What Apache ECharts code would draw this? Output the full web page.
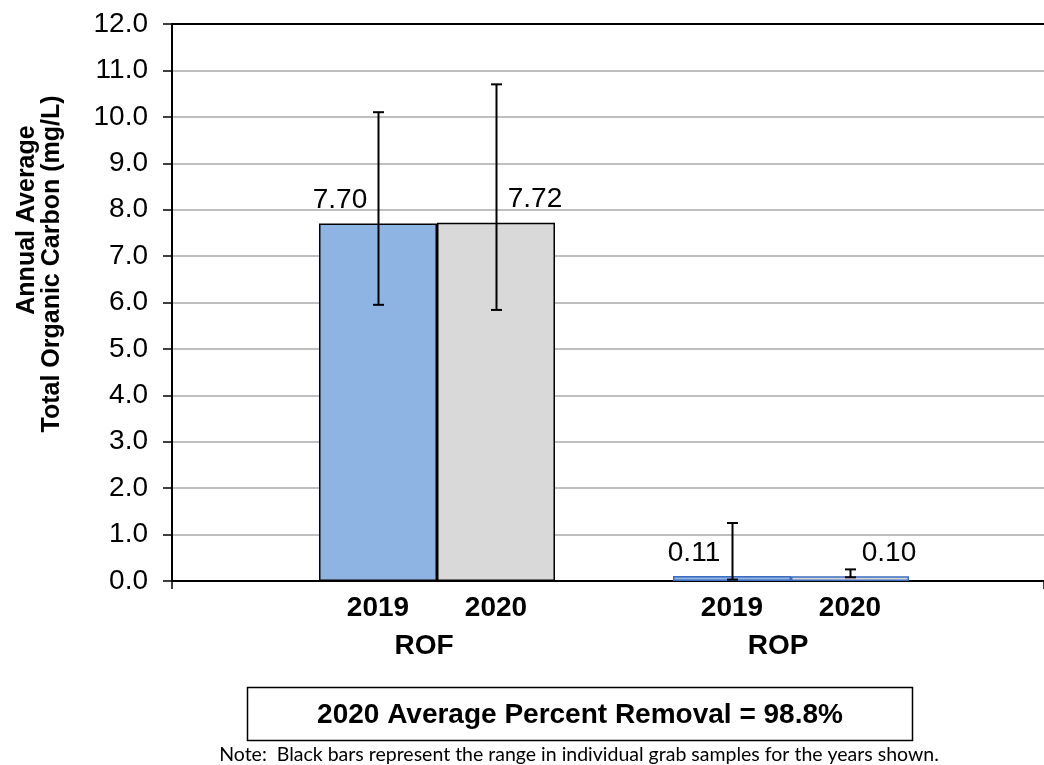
<!DOCTYPE html>
<html>
<head>
<meta charset="utf-8">
<script src="https://cdn.jsdelivr.net/npm/echarts@6/dist/echarts.min.js"></script>
<style>
html,body{margin:0;padding:0;background:#fff;}
#chart{width:1044px;height:765px;}
</style>
</head>
<body>
<div id="chart"></div>
<script>
// ---- data ----
const categories = ['ROF', 'ROP'];
const years = ['2019', '2020'];
const avg2019 = [7.70, 0.11];
const avg2020 = [7.72, 0.10];
const min2019 = [5.95, 0.03];
const max2019 = [10.1, 1.25];
const min2020 = [5.84, 0.08];
const max2020 = [10.7, 0.25];
const yMin = 0, yMax = 12, yStep = 1;
const yTitleLine1 = 'Annual Average';
const yTitleLine2 = 'Total Organic Carbon (mg/L)';
const removalText = '2020 Average Percent Removal = 98.8%';
const noteText = 'Note:  Black bars represent the range in individual grab samples for the years shown.';

// ---- styles ----
const FONT = "'Liberation Sans', Arial, sans-serif";
const borderByCat = ['#000000', '#3B6CC0'];
const fill2019 = '#8EB4E3';
const fill2020 = '#D9D9D9';

const chart = echarts.init(document.getElementById('chart'), null, {renderer: 'canvas'});

function barData(vals, fill) {
  return vals.map((v, i) => ({
    value: v,
    itemStyle: {color: fill, borderColor: borderByCat[i], borderWidth: 1.5}
  }));
}

function errSeries(mins, maxs, sign) {
  return {
    type: 'custom',
    xAxisIndex: 2, yAxisIndex: 1,
    z: 5,
    silent: true,
    data: categories.map((c, i) => [i, mins[i], maxs[i]]),
    renderItem: function (params, api) {
      const c = api.value(0);
      const lo = api.coord([c, api.value(1)]);
      const hi = api.coord([c, api.value(2)]);
      const band = api.size([1, 0])[0];
      const x = Math.round(lo[0] + sign * band / 6) + 0.5;
      const cap = 5.5;
      const st = {stroke: '#000', lineWidth: 2};
      return {
        type: 'group',
        children: [
          {type: 'line', shape: {x1: x, y1: hi[1], x2: x, y2: lo[1]}, style: st},
          {type: 'line', shape: {x1: x - cap, y1: hi[1], x2: x + cap, y2: hi[1]}, style: st},
          {type: 'line', shape: {x1: x - cap, y1: lo[1], x2: x + cap, y2: lo[1]}, style: st}
        ]
      };
    }
  };
}

const GRID_TOP = 24, GRID_BOTTOM = 184;

const option = {
  backgroundColor: '#ffffff',
  animation: false,
  textStyle: {fontFamily: FONT},
  grid: [
    {left: 172, right: 0, top: GRID_TOP, bottom: GRID_BOTTOM, containLabel: false},
    {left: 260, width: 708, top: GRID_TOP, bottom: GRID_BOTTOM, containLabel: false}
  ],
  xAxis: [
    { // bottom frame line
      gridIndex: 0, type: 'value', min: 0, max: 1, interval: 1, position: 'bottom',
      axisLine: {show: true, lineStyle: {color: '#000', width: 2}},
      axisTick: {show: true, length: 8, lineStyle: {color: '#000', width: 1.5}},
      axisLabel: {show: false}, splitLine: {show: false}
    },
    { // top frame line
      gridIndex: 0, type: 'value', min: 0, max: 1, position: 'top',
      axisLine: {show: true, lineStyle: {color: '#000', width: 2}},
      axisTick: {show: false}, axisLabel: {show: false}, splitLine: {show: false}
    },
    { // category axis for bars
      gridIndex: 1, type: 'category', data: categories,
      axisLine: {show: false}, axisTick: {show: false}, splitLine: {show: false},
      axisLabel: {
        show: true, margin: 11, interval: 0,
        formatter: function (v) {
          return years.map(y => '{y|' + y + '}').join('') + '\n{c|' + v + '}';
        },
        rich: {
          y: {width: 118, align: 'center', fontSize: 28, fontWeight: 'bold', color: '#000', lineHeight: 32, fontFamily: FONT},
          c: {fontSize: 28, fontWeight: 'bold', color: '#000', lineHeight: 44, padding: [0, 26, 0, 0], fontFamily: FONT}
        }
      }
    }
  ],
  yAxis: [
    {
      gridIndex: 0, type: 'value', min: yMin, max: yMax, interval: yStep,
      axisLine: {show: true, lineStyle: {color: '#000', width: 2}},
      axisTick: {show: true, length: 9, lineStyle: {color: '#000', width: 1.5}},
      axisLabel: {
        show: true, margin: 24, fontSize: 28, color: '#000', fontFamily: FONT,
        formatter: v => v.toFixed(1)
      },
      splitLine: {show: true, lineStyle: {color: '#BFBFBF', width: 2}}
    },
    {
      gridIndex: 1, type: 'value', min: yMin, max: yMax, interval: yStep,
      show: false
    }
  ],
  series: [
    {
      name: years[0], type: 'bar', xAxisIndex: 2, yAxisIndex: 1,
      barWidth: '33.333%', barGap: '0%',
      data: barData(avg2019, fill2019),
      label: {
        show: true, position: 'top', distance: 9, offset: [-38, 0],
        fontSize: 28, color: '#000', fontFamily: FONT,
        formatter: p => p.value.toFixed(2)
      }
    },
    {
      name: years[1], type: 'bar', xAxisIndex: 2, yAxisIndex: 1,
      barWidth: '33.333%', barGap: '0%',
      data: barData(avg2020, fill2020),
      label: {
        show: true, position: 'top', distance: 9, offset: [39, 0],
        fontSize: 28, color: '#000', fontFamily: FONT,
        formatter: p => p.value.toFixed(2)
      }
    },
    errSeries(min2019, max2019, -1),
    errSeries(min2020, max2020, 1)
  ],
  graphic: [
    {
      type: 'text', x: 52, y: 264, rotation: Math.PI / 2,
      style: {text: yTitleLine2, font: 'bold 25px ' + FONT, fill: '#000', align: 'center', verticalAlign: 'middle'}
    },
    {
      type: 'text', x: 27, y: 220, rotation: Math.PI / 2,
      style: {text: yTitleLine1, font: 'bold 25px ' + FONT, fill: '#000', align: 'center', verticalAlign: 'middle'}
    },
    {
      type: 'rect', shape: {x: 247.5, y: 687.5, width: 665, height: 53},
      style: {fill: '#fff', stroke: '#000', lineWidth: 1.5}
    },
    {
      type: 'text', x: 580, y: 715,
      style: {text: removalText, font: 'bold 28px ' + FONT, fill: '#000', align: 'center', verticalAlign: 'middle'}
    },
    {
      type: 'text', x: 579, y: 755,
      style: {text: noteText, font: '19.5px Lato, sans-serif', fill: '#000', align: 'center', verticalAlign: 'middle'}
    }
  ]
};
chart.setOption(option);
</script>
</body>
</html>
